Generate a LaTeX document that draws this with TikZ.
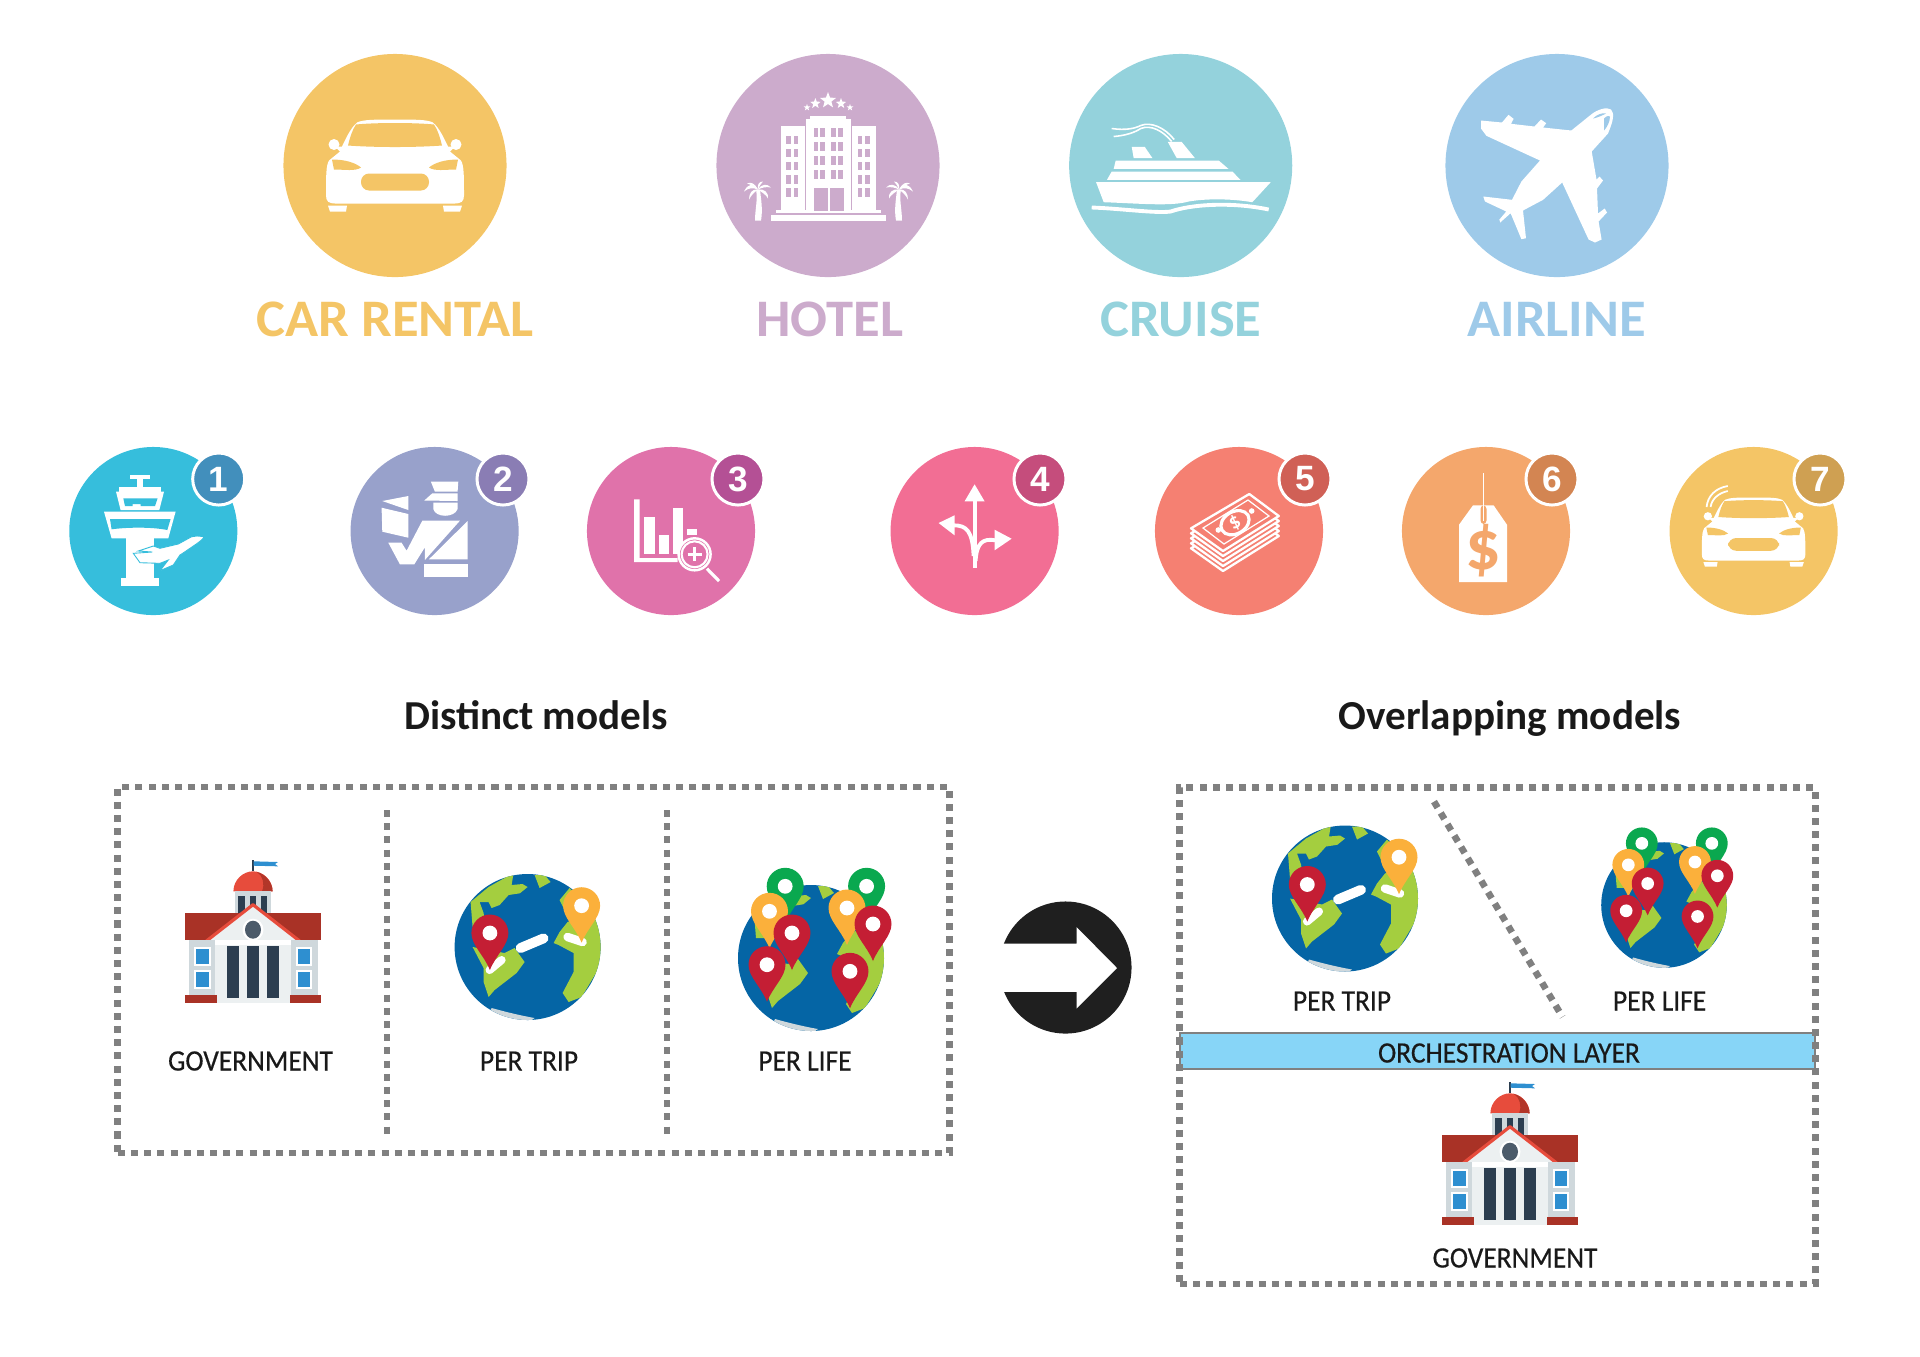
\documentclass[tikz,border=0pt]{standalone}
\usepackage{fontspec}
\setmainfont{Carlito}
\newfontfamily\badgefont{Liberation Sans}
\newfontfamily\itemfont[FakeBold=0.5]{Carlito}
\usetikzlibrary{shapes.geometric}
\definecolor{carcol}{HTML}{F4C566}
\definecolor{hotelcol}{HTML}{CCABCC}
\definecolor{cruisecol}{HTML}{94D2DC}
\definecolor{airlinecol}{HTML}{9ECAE9}
\definecolor{towercol}{HTML}{36BEDC}
\definecolor{towerbadge}{HTML}{428FBC}
\definecolor{officercol}{HTML}{98A1CB}
\definecolor{officerbadge}{HTML}{8A7DB4}
\definecolor{chartcol}{HTML}{E072AA}
\definecolor{chartbadge}{HTML}{B45095}
\definecolor{forkcol}{HTML}{F26E94}
\definecolor{forkbadge}{HTML}{C54D7C}
\definecolor{moneycol}{HTML}{F58072}
\definecolor{moneybadge}{HTML}{D06056}
\definecolor{tagcol}{HTML}{F4A76C}
\definecolor{tagbadge}{HTML}{D38552}
\definecolor{autocol}{HTML}{F4C566}
\definecolor{autobadge}{HTML}{CFA052}
\definecolor{boxgray}{HTML}{808080}
\definecolor{layercol}{HTML}{87D5F7}
\definecolor{seacol}{HTML}{0565A5}
\definecolor{landcol}{HTML}{A4CE3F}
\definecolor{pinred}{HTML}{C41E34}
\definecolor{pinorange}{HTML}{FBB03B}
\definecolor{pingreen}{HTML}{0AA84F}
\definecolor{roofcol}{HTML}{A93226}
\definecolor{domecol}{HTML}{E74C3C}
\definecolor{slatecol}{HTML}{2C3E50}
\definecolor{wallcol}{HTML}{CFD8DC}
\definecolor{frontcol}{HTML}{ECF0F1}
\definecolor{glasscol}{HTML}{2E8FD0}
\tikzset{
pics/carfront/.style={code={
\fill[white] (0,-46) .. controls (-20,-46) and (-32,-46) .. (-38,-43) .. controls (-45,-37) and (-50,-25) .. (-53,-19) -- (-55,-14) -- (-66,-5) .. controls (-69,0) and (-69,10) .. (-69,30) .. controls (-69,36) and (-66,38) .. (-60,38) -- (60,38) .. controls (66,38) and (69,36) .. (69,30) .. controls (69,10) and (69,0) .. (66,-5) -- (55,-14) -- (53,-19) .. controls (50,-25) and (45,-37) .. (38,-43) .. controls (32,-46) and (20,-46) .. (0,-46) -- cycle;
\fill[white] (-61,-21) circle (5.5);
\fill[white] (61,-21) circle (5.5);
\fill[white] (-60,-19) -- (-52,-19) -- (-54,-13) -- cycle;
\fill[white] (60,-19) -- (52,-19) -- (54,-13) -- cycle;
\fill[white] (-67,40) -- (-48,40) -- (-49,46) -- (-65,46) -- cycle;
\fill[white] (67,40) -- (48,40) -- (49,46) -- (65,46) -- cycle;
\fill[#1] (-39,-41) .. controls (-20,-43) and (20,-43) .. (39,-41) .. controls (43,-35) and (45,-28) .. (47,-20) .. controls (20,-18) and (-20,-18) .. (-47,-20) .. controls (-45,-28) and (-43,-35) .. (-39,-41) -- cycle;
\fill[#1] (-63,-6) .. controls (-50,-6) and (-40,-3) .. (-34,2) .. controls (-40,6) and (-50,4) .. (-61,4) -- cycle;
\fill[#1] (63,-6) .. controls (50,-6) and (40,-3) .. (34,2) .. controls (40,6) and (50,4) .. (61,4) -- cycle;
\fill[#1,rounded corners=2.3pt] (-34,8) rectangle (34,25);
}},
pics/palm/.style={code={
\fill[white] (-2,0) .. controls (0,10) and (-3,20) .. (-3,31) -- (3,31) .. controls (5,20) and (3,10) .. (2,0) -- cycle;
\fill[white] (0,0) .. controls (-5,-7) and (-10,-6) .. (-14,2) .. controls (-9,-2) and (-5,-2) .. (0,0) -- cycle;
\fill[white] (0,0) .. controls (-3,-6) and (-7,-8) .. (-11,-6) .. controls (-7,-5) and (-4,-3) .. (0,0) -- cycle;
\fill[white] (0,0) .. controls (-1,-5) and (1,-8) .. (5,-8) .. controls (2,-6) and (2,-3) .. (0,0) -- cycle;
\fill[white] (0,0) .. controls (4,-6) and (9,-6) .. (13,-2) .. controls (8,-3) and (4,-2) .. (0,0) -- cycle;
\fill[white] (0,0) .. controls (-6,-1) and (-9,4) .. (-9,10) .. controls (-7,6) and (-4,3) .. (0,0) -- cycle;
\fill[white] (0,0) .. controls (6,-1) and (11,3) .. (10,9) .. controls (8,5) and (4,3) .. (0,0) -- cycle;
}},
pics/hotel/.style={code={
\fill[white] (-22,-47) rectangle (23,46);
\fill[white] (-18,-50) rectangle (18,-45);
\fill[white] (-47.5,-40) rectangle (-23.5,46);
\fill[white] (24,-40) rectangle (48,46);
\fill[white] (-52,44) rectangle (53,47);
\fill[white] (-57,49) rectangle (58,55);
\foreach \y in {-38,-24,-10,4} {\foreach \x in {-14.5,-7.8,3.4,10} {\fill[#1] (\x,\y) rectangle ++(4.8,9);}}
\foreach \y in {-30,-16.7,-3.7,9.7,22.7} {\foreach \x in {-41.7,-34.4,29.6,37.3} {\fill[#1] (\x,\y) rectangle ++(4.8,8.3);}}
\fill[#1] (-14.5,22) rectangle (-0.5,45);
\fill[#1] (1.5,22) rectangle (15.5,45);
\node[hotelstar,minimum size=.17cm] (star1) at (0,-65) {};
\node[hotelstar,minimum size=.11cm] (star2) at (-12.6,-62) {};
\node[hotelstar,minimum size=.11cm] (star3) at (13,-62) {};
\node[hotelstar,minimum size=.07cm] (star4) at (-21,-58) {};
\node[hotelstar,minimum size=.07cm] (star5) at (22,-58) {};
\pic at (-70,24) {palm};
\pic[xscale=-1] at (71,24) {palm};
}},
pics/ship/.style={code={
\fill[white] (-84.6,16.7) -- (90,16.7) -- (71.6,36.7) .. controls (50,33) and (25,33) .. (8,36) .. controls (-10,41) and (-40,38) .. (-77,36.7) -- cycle;
\fill[white] (-69,6) -- (51.6,6) -- (59.8,14.3) -- (-73.7,14.3) -- cycle;
\fill[white] (-65,-5) -- (38,-5) -- (47.7,3.3) -- (-67,3.3) -- cycle;
\fill[white] (-49,-18.7) -- (-36,-18.7) -- (-28.2,-7.3) -- (-47,-7.3) -- cycle;
\fill[white] (-13,-23.7) -- (0.9,-23.7) -- (14.3,-7.3) -- (-3.9,-7.3) -- cycle;
\draw[white,line width=1.1pt] (-89,42) .. controls (-60,43) and (-25,48) .. (-10,46) .. controls (10,39) and (50,36) .. (88,44);
\draw[white,line width=.45pt] (-6.5,-26) .. controls (-16,-38) and (-30,-44) .. (-40,-40) .. controls (-46,-37) and (-55,-35) .. (-69,-37);
\draw[white,line width=.45pt] (-9,-24) .. controls (-18,-35) and (-30,-41) .. (-40,-37) .. controls (-46,-33) and (-55,-30) .. (-67,-29);
}},
pics/plane/.style={code={
\fill[white] (33.8,-50.7) .. controls (40,-56) and (50,-59) .. (54,-56) .. controls (58,-52) and (56,-44) .. (51,-32) -- (34.7,-14) -- (39.5,14) -- (42.5,11) -- (46,15) -- (40,23) -- (41,48) -- (47.7,43) -- (50,47) -- (41.6,56) -- (44.6,74) -- (38,77) -- (31.6,74) -- (5.2,17) -- (-13.9,34.3) -- (-34,45) -- (-31,72.7) -- (-35.6,73.7) -- (-46.4,47.7) -- (-56.8,57) -- (-57.6,54) -- (-50.7,46) -- (-72,36) -- (-73.7,31) -- (-45,34.3) -- (-35.6,16) -- (-17,-5) -- (-70.6,-29.7) -- (-76,-37) -- (-76,-45) -- (-55,-43) -- (-48.5,-50.7) -- (-43.4,-46.7) -- (-46,-41.7) -- (-22.5,-39) -- (-16,-46) -- (-10.8,-42.3) -- (-13.9,-38) -- (14.3,-35) -- cycle;
\fill[#1] (36,-47) .. controls (40,-51) and (45,-53) .. (49,-52) .. controls (45,-50) and (41,-48) .. (36,-47) -- cycle;
\fill[#1] (47,-47) .. controls (50,-50) and (52,-50) .. (53,-49) .. controls (53,-44) and (50,-38) .. (47,-35) -- cycle;
}},
pics/tower/.style={code={
\fill[white] (-23.3,-56) rectangle (-3.3,-51.7);
\fill[white] (-16,-51.7) rectangle (-10.7,-44);
\fill[white] (-34,-44) rectangle (7.3,-39.3);
\fill[white] (-37.3,-39.3) -- (10.7,-39.3) -- (6,-21) -- (-32.7,-21) -- cycle;
\fill[#1] (-30,-32.7) -- (4.3,-32.7) -- (1.7,-25) -- (-12.7,-25) -- (-12.7,-27) -- (-20.7,-27) -- (-20.7,-25) -- (-28.3,-25) -- cycle;
\fill[white] (-49.3,-19.3) -- (22.3,-19.3) -- (15,7.3) -- (-41.7,7.3) -- cycle;
\fill[#1] (-43.3,-12) -- (17.3,-12) -- (14,-1) .. controls (0,-4) and (-25,-4) .. (-41.7,-1.7) -- cycle;
\fill[white] (-27.7,7) rectangle (0.7,47.3);
\fill[white] (-32.7,47.3) rectangle (6,54.7);
\filldraw[fill=white,draw=#1,line width=.25pt] (50.7,5.7) .. controls (45,5) and (42,4.5) .. (38.3,5.7) -- (25,13) -- (6.7,17.3) -- (0,15) -- (-15,20) -- (-1,21) -- (-20,22.3) -- (-13.3,31.7) -- (6.7,32.3) -- (15,29) -- (6.7,39.7) -- (20,34) -- (26.7,24) -- (31.7,20.7) -- (43,13) .. controls (47,10) and (50,8) .. (50.7,5.7) -- cycle;
}},
pics/officer/.style={code={
\fill[white] (-3.7,-49.3) -- (23.7,-49.3) -- (23,-39.3) -- (0.3,-39.3) -- cycle;
\fill[white] (-2.3,-37.7) -- (23,-37.7) -- (23,-30) -- (-10.3,-30.5) -- cycle;
\fill[white] (-1.3,-28.5) -- (23,-28.5) -- (23,-22) .. controls (20,-13) and (1,-13) .. (-1.3,-22) -- cycle;
\fill[white] (33,-10) -- (33,28.3) -- (-5.7,28.3) -- cycle;
\fill[white] (-46.3,11.7) -- (-33,11.7) -- (-28,19.7) -- (-12.3,-10.3) -- (25.3,-10.3) -- (-9.7,29) -- (-9.7,16.3) -- (-20.3,33.3) -- (-34.7,33.3) -- cycle;
\fill[white] (-10.3,33) rectangle (33,45.7);
\fill[white] (-52.3,-30) -- (-26.3,-35) -- (-26.3,-21) -- cycle;
\fill[white] (-53,-23.3) -- (-26.3,-17) -- (-26.3,6.7) -- (-52.3,0.7) -- cycle;
}},
pics/chart/.style={code={
\fill[white] (-37,-31.7) -- (-31.5,-31.7) -- (-31.5,27) -- (6.6,27) -- (6.6,31) -- (-37,31) -- cycle;
\fill[white] (-27,-14) rectangle (-16,22.7);
\fill[white] (-12.3,4.3) rectangle (-2,22.7);
\fill[white] (1.9,-23.3) rectangle (11.8,22.7);
\fill[white] (15.6,-2.3) rectangle (25.5,4.3);
\filldraw[fill=#1,draw=white,line width=.7pt] (23.6,23.3) circle (16);
\draw[white,line width=.6pt] (23.6,23.3) circle (13);
\draw[white,line width=.9pt] (36,37.7) -- (48,50);
\draw[white,line width=.7pt] (16.6,23.3) -- (30.6,23.3);
\draw[white,line width=.7pt] (23.6,16.3) -- (23.6,30.3);
}},
pics/fork/.style={code={
\fill[white] (0,-46.7) -- (10,-29.7) -- (-10,-29.7) -- cycle;
\draw[white,line width=1.1pt] (0,-30) -- (0,36.7);
\fill[white] (-36,-8) -- (-20,-15.7) -- (-20,4.3) -- cycle;
\draw[white,line width=1.1pt] (-21,-5.7) .. controls (-8,-5.7) and (-2,0) .. (-1,25);
\fill[white] (37,7.7) -- (20,-1.3) -- (20,19.3) -- cycle;
\draw[white,line width=1.1pt] (21,9.3) .. controls (8,7) and (2,12) .. (1,30);
}},
pics/banknotes/.style={code={
\filldraw[fill=#1,draw=white,line width=.65pt,line join=round] (10.3,-17) -- (39.8,5) -- (-16,40) -- (-48,17.3) -- cycle;
\filldraw[fill=#1,draw=white,line width=.65pt,line join=round] (10.3,-22) -- (39.8,0) -- (-16,35) -- (-48,12.3) -- cycle;
\filldraw[fill=#1,draw=white,line width=.65pt,line join=round] (10.3,-27) -- (39.8,-5) -- (-16,30) -- (-48,7.3) -- cycle;
\filldraw[fill=#1,draw=white,line width=.65pt,line join=round] (10.3,-32) -- (39.8,-10) -- (-16,25) -- (-48,2.3) -- cycle;
\filldraw[fill=#1,draw=white,line width=.65pt,line join=round] (10.3,-37) -- (39.8,-15) -- (-16,20) -- (-48,-2.7) -- cycle;
\draw[white,line width=.35pt] (9,-31) -- (30,-15) -- (-15,13) -- (-36,-3) -- cycle;
\filldraw[fill=#1,draw=white,line width=.9pt,rotate around={30:(-4,-8.3)}] (-4,-8.3) ellipse (15 and 11);
\node[text=white,rotate=30,font=\fontsize{6}{7}\bfseries\selectfont,inner sep=0] (notedollar) at (-4,-8.3) {\$};
\fill[white] (12.7,-20) circle (2.8);
\fill[white] (-20.7,-1) circle (2.8);
}},
pics/pricetag/.style={code={
\fill[white] (-13,-25.7) -- (7.6,-25.7) -- (21,-6.3) -- (21,51) -- (-27,51) -- (-27,-6.3) -- cycle;
\fill[#1,rounded corners=1pt] (-5.5,-25.7) rectangle (0.5,-7);
\draw[white,line width=.45pt] (-2.5,-58) -- (-2.5,-10);
\node[text=#1,font=\fontsize{20}{22}\bfseries\selectfont] (dollar) at (-2.5,20) {\$};
}},
pics/earth/.style={code={
\fill[seacol] (0,0) circle (73);
\begin{scope}
\clip (0,0) circle (73);
\fill[landcol] (-57,-45) -- (-39,-60) -- (-14,-74) -- (-16,-62) -- (-5,-63) -- (0,-60) -- (-7.7,-53.7) -- (-19,-52) -- (-28,-42) -- (-36,-39) -- (-39,-45) -- (-48,-45) -- (-44,-34) -- (-42,-20) -- (-55,-20) -- cycle;
\fill[landcol] (7,-72) -- (17,-72) -- (23,-65) -- (12,-59) -- cycle;
\fill[landcol] (-55,0) -- (-23,6) -- (-13,1) -- (-3,15) -- (-11,26) -- (-33,43) -- (-39,50) -- (-44,35) -- (-44,21) -- cycle;
\fill[landcol] (26,-4) -- (32,-15) -- (40,-25) -- (62,-34) -- (75,-20) -- (75,15) -- (54,50) -- (41,55) -- (35,46) -- (46,25) -- (46,6) -- (31,-2) -- cycle;
\fill[landcol] (32,-47) -- (42,-59) -- (55,-45) -- (38,-35) -- cycle;
\fill[wallcol] (-36,61) .. controls (-25,64) and (-10,68) .. (7,71) -- (0,76) -- (-40,70) -- cycle;
\end{scope}
}},
pics/pin/.style={code={
\fill[#1] (-18.5,0) .. controls (-18.5,-10.2) and (-10.2,-18.5) .. (0,-18.5) .. controls (10.2,-18.5) and (18.5,-10.2) .. (18.5,0) .. controls (18.5,12) and (6,22) .. (0,37) .. controls (-6,22) and (-18.5,12) .. (-18.5,0) -- cycle;
\fill[white] (0,0) circle (7.4);
}},
pics/tripglobe/.style={code={
\pic[transform shape] {earth};
\draw[white,line width=2.8pt,line cap=round] (-7,1) -- (16,-8.7);
\draw[white,line width=2.3pt,line cap=round] (-38,23) -- (-26,13);
\draw[white,line width=2.4pt,line cap=round] (40,-10) -- (55,-5);
\pic[transform shape] at (-37.7,-14) {pin=pinred};
\pic[transform shape] at (54,-41.3) {pin=pinorange};
}},
pics/lifeglobe/.style={code={
\pic[transform shape] {earth};
\pic[transform shape] at (-25.8,-71.7) {pin=pingreen};
\pic[transform shape] at (55.6,-71.7) {pin=pingreen};
\pic[transform shape] at (-41.5,-46.7) {pin=pinorange};
\pic[transform shape] at (36,-50) {pin=pinorange};
\pic[transform shape] at (-44,6.7) {pin=pinred};
\pic[transform shape] at (39,13.3) {pin=pinred};
\pic[transform shape] at (-19,-25) {pin=pinred};
\pic[transform shape] at (62,-34) {pin=pinred};
}},
pics/government/.style={code={
\draw[slatecol,line width=.35pt] (0,-71.7) -- (0,-60.7);
\fill[glasscol] (0.5,-70.7) -- (25,-70) -- (22,-68) -- (25,-65.7) -- (0.5,-66.3) -- cycle;
\fill[domecol] (-19.6,-40.7) .. controls (-19.6,-52) and (-10,-60.7) .. (0,-60.7) .. controls (10,-60.7) and (19.6,-52) .. (19.6,-40.7) -- cycle;
\fill[roofcol!85!domecol] (4,-60) .. controls (10,-56) and (12,-48) .. (9,-40.7) -- (19.6,-40.7) .. controls (19.6,-50) and (12,-58) .. (4,-60) -- cycle;
\fill[wallcol] (-18,-40.7) rectangle (18,-19);
\fill[slatecol] (-14.6,-36.3) rectangle (-8.4,-19);
\fill[slatecol] (-3.4,-36.3) rectangle (2.8,-19);
\fill[slatecol] (7.9,-36.3) rectangle (14,-19);
\fill[roofcol] (-68,-19) rectangle (68,8.3);
\fill[frontcol] (0,-27.3) -- (46.6,8.3) -- (-46.6,8.3) -- cycle;
\draw[domecol,line width=.9pt,line join=round] (-46.6,9) -- (0,-27.3) -- (46.6,9);
\fill[white] (0,-2.3) ellipse (10.5 and 11);
\fill[slatecol!85!white] (0,-2.3) ellipse (8 and 9);
\fill[wallcol] (-64.5,8.3) rectangle (-38,62.7);
\fill[wallcol] (37.6,8.3) rectangle (64.5,62.7);
\fill[frontcol] (-38,8.3) rectangle (37.6,71);
\fill[white] (-38,8.3) rectangle (37.6,13);
\fill[slatecol] (-26.4,14.3) rectangle (-14,66);
\fill[slatecol] (-6.2,14.3) rectangle (6.2,66);
\fill[slatecol] (14,14.3) rectangle (26.4,66);
\fill[white] (-59,15) rectangle (-42.3,34);
\fill[white] (-59,38) rectangle (-42.3,57);
\fill[white] (43,15) rectangle (59,34);
\fill[white] (43,38) rectangle (59,57);
\fill[glasscol] (-57,16.7) rectangle (-44.3,32);
\fill[glasscol] (-57,40) rectangle (-44.3,55.3);
\fill[glasscol] (45,16.7) rectangle (57,32);
\fill[glasscol] (45,40) rectangle (57,55.3);
\fill[roofcol] (-68,62.7) rectangle (-36.5,71);
\fill[roofcol] (36.5,62.7) rectangle (68,71);
}}
}
\begin{document}
\begin{tikzpicture}[x=0.01cm,y=-0.01cm,
bigdisc/.style={circle,minimum size=2.23cm,inner sep=0},
smalldisc/.style={circle,minimum size=1.68cm,inner sep=0},
badge/.style={circle,draw=white,line width=.85pt,minimum size=.52cm,inner sep=0,text=white,font=\badgefont\fontsize{10}{12}\bfseries\selectfont},
biglabel/.style={font=\fontsize{15}{18}\bfseries\selectfont,inner sep=0,xscale=1.035},
title/.style={font=\fontsize{11.7}{14}\bfseries\selectfont,text=black!90,inner sep=0,anchor=base},
itemlabel/.style={font=\itemfont\fontsize{8.4}{10}\selectfont,text=black!90,inner sep=0,xscale=.93},
hotelstar/.style={star,star points=5,star point ratio=2.4,fill=white,inner sep=0},
modelbox/.style={draw=boxgray,line width=1.9pt,dash pattern=on 2pt off 1.75pt,inner sep=0},
split/.style={draw=boxgray,line width=1.9pt,dash pattern=on 2pt off 1.75pt}]
\useasboundingbox (0,0) rectangle (1920,1356);

\node[bigdisc,fill=carcol] (car) at (395,165.5) {};
\node[bigdisc,fill=hotelcol] (hotel) at (828,165.5) {};
\node[bigdisc,fill=cruisecol] (cruise) at (1180.7,165.5) {};
\node[bigdisc,fill=airlinecol] (airline) at (1557,165.5) {};
\pic at (car) {carfront=carcol};
\pic at (hotel) {hotel=hotelcol};
\pic at (cruise) {ship};
\pic at (airline) {plane=airlinecol};
\node[biglabel,text=carcol] (carlabel) at (395,319) {CAR RENTAL};
\node[biglabel,text=hotelcol] (hotellabel) at (830,319) {HOTEL};
\node[biglabel,text=cruisecol] (cruiselabel) at (1181,319) {CRUISE};
\node[biglabel,text=airlinecol] (airlinelabel) at (1556.7,319) {AIRLINE};

\node[smalldisc,fill=towercol] (tower) at (153.3,531) {};
\node[smalldisc,fill=officercol] (officer) at (434.6,531) {};
\node[smalldisc,fill=chartcol] (chart) at (671,531) {};
\node[smalldisc,fill=forkcol] (fork) at (974.6,531) {};
\node[smalldisc,fill=moneycol] (money) at (1239,531) {};
\node[smalldisc,fill=tagcol] (tag) at (1486,531) {};
\node[smalldisc,fill=autocol] (auto) at (1753.6,531) {};
\pic at (tower) {tower=towercol};
\pic at (officer) {officer};
\pic at (chart) {chart=chartcol};
\pic at (fork) {fork};
\pic at (money) {banknotes=moneycol};
\pic at (tag) {pricetag=tagcol};
\pic[scale=.75] at (1753.6,532) {carfront=autocol};
\draw[white,line width=.5pt] (1706.6,507) .. controls (1707.6,496) and (1715.6,488) .. (1727.8,486);
\draw[white,line width=.5pt] (1710.6,507) .. controls (1711.6,499) and (1718.6,493) .. (1727.8,491);
\node[badge,fill=towerbadge] (badge1) at (218.7,479) {1};
\node[badge,fill=officerbadge] (badge2) at (503,479) {2};
\node[badge,fill=chartbadge] (badge3) at (738,479) {3};
\node[badge,fill=forkbadge] (badge4) at (1040,479) {4};
\node[badge,fill=moneybadge] (badge5) at (1305,479) {5};
\node[badge,fill=tagbadge] (badge6) at (1552,479) {6};
\node[badge,fill=autobadge] (badge7) at (1820,479) {7};

\node[title] (distinct) at (536,729) {Distinct models};
\node[title] (overlapping) at (1510,729) {Overlapping models};

\node[modelbox,minimum width=8.31cm,minimum height=3.66cm] (distinctbox) at (533.5,970) {};
\coordinate (splita1) at (387,810);
\coordinate (splita2) at (387,1137);
\coordinate (splitb1) at (667,810);
\coordinate (splitb2) at (667,1137);
\draw[split] (splita1) -- (splita2);
\draw[split] (splitb1) -- (splitb2);
\pic at (253,932) {government};
\pic at (527.6,947) {tripglobe};
\pic at (811,958) {lifeglobe};
\node[itemlabel] (govleft) at (250.5,1061) {GOVERNMENT};
\node[itemlabel] (tripleft) at (529,1061) {PER TRIP};
\node[itemlabel] (lifeleft) at (805,1061) {PER LIFE};

\node[circle,fill=black!88,minimum size=1.32cm,inner sep=0] (arrowdisc) at (1065.5,967.5) {};
\fill[white] (995,943.7) -- (1076.5,943.7) -- (1076.5,927) -- (1117,968) -- (1076.5,1008.6) -- (1076.5,991.8) -- (995,991.8) -- cycle;

\node[draw=boxgray,line width=.7pt,fill=layercol,minimum width=6.35cm,minimum height=.36cm,inner sep=0] (layer) at (1497.5,1051) {};
\node[modelbox,minimum width=6.35cm,minimum height=4.965cm] (overlapbox) at (1497.5,1035.7) {};
\node[itemlabel] (layerlabel) at (1509,1053) {ORCHESTRATION LAYER};
\coordinate (splitc1) at (1434,801.6);
\coordinate (splitc2) at (1562.5,1017);
\draw[split] (splitc1) -- (splitc2);
\pic at (1345,898.5) {tripglobe};
\pic[scale=.86] at (1664,905) {lifeglobe};
\pic at (1510,1154) {government};
\node[itemlabel] (tripright) at (1342,1001) {PER TRIP};
\node[itemlabel] (liferight) at (1659.6,1001) {PER LIFE};
\node[itemlabel] (govright) at (1515,1258) {GOVERNMENT};
\end{tikzpicture}
\end{document}
